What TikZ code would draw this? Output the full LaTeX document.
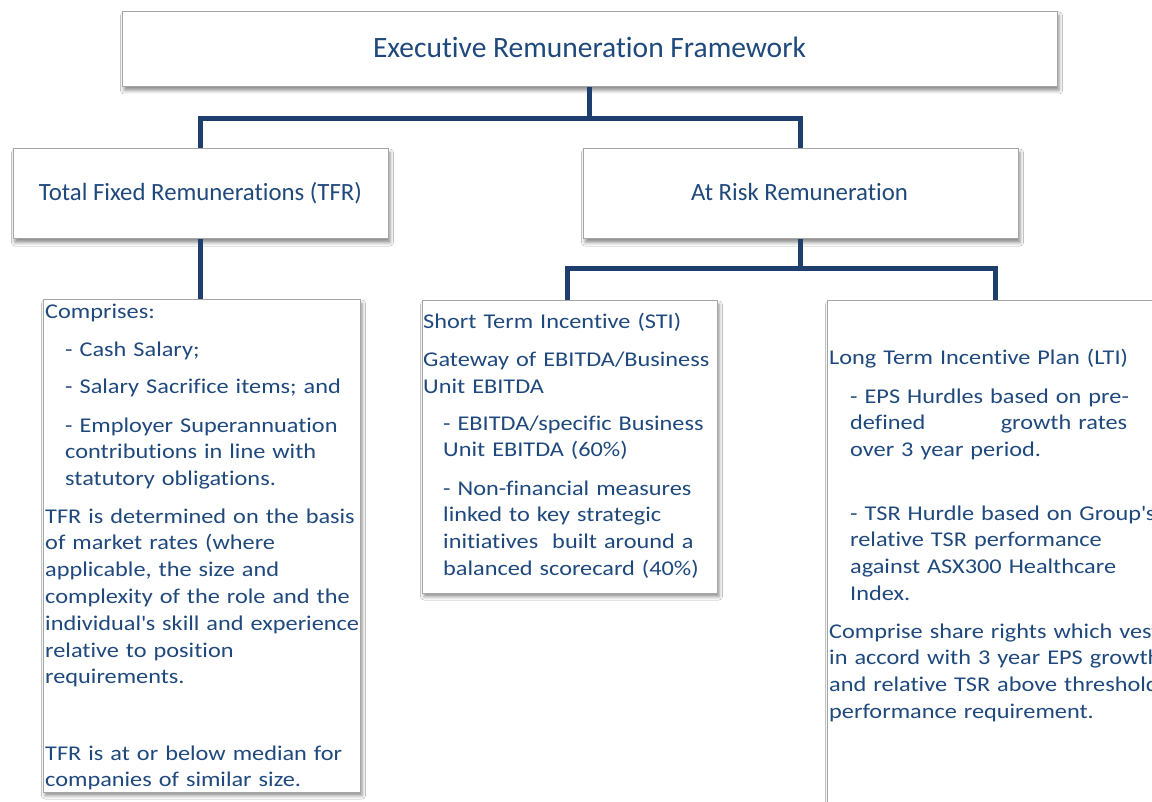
\documentclass[tikz,border=0pt]{standalone}
\usepackage{fontspec}
\setmainfont[Ligatures=NoCommon]{Carlito}
\newfontfamily\bodyfont[FakeStretch=1.157,Ligatures=NoCommon]{Carlito}
\usetikzlibrary{shadows.blur,calc}
\definecolor{txtblue}{HTML}{1F497D}
\definecolor{linkblue}{HTML}{1E3F6E}
\definecolor{boxgray}{HTML}{A6A6A6}
\tikzset{
  frame/.style={draw=boxgray, line width=1pt, fill=white, inner sep=0pt,
    blur shadow={shadow xshift=2pt, shadow yshift=-3.5pt, shadow blur radius=3.5pt, shadow opacity=45}},
  link/.style={draw=linkblue, line width=5pt, line join=miter},
  titletxt/.style={text=txtblue, font=\fontsize{29.5}{35}\selectfont, inner sep=0pt, anchor=base},
  headtxt/.style={text=txtblue, font=\fontsize{24.8}{30}\selectfont, inner sep=0pt, anchor=base},
  bodytxt/.style={text=txtblue, font=\bodyfont\fontsize{21}{26.8}\selectfont, inner sep=0pt,
    anchor=base west, text width=420pt, align=left},
}
\begin{document}
\begin{tikzpicture}[x=1pt,y=-1pt]
\useasboundingbox (0,0) rectangle (1152,802);
\clip (0,0) rectangle (1152,802);
\fill[white] (0,0) rectangle (1152,802);

% boxes
\node[frame, minimum width=935pt, minimum height=75pt] (top) at (589.5,49.5) {};
\node[frame, minimum width=375pt, minimum height=90pt] (tfr) at (200.5,194) {};
\node[frame, minimum width=435pt, minimum height=90pt] (risk) at (800.5,194) {};
\node[frame, minimum width=317pt, minimum height=492pt] (tfrd) at (201.5,546) {};
\node[frame, minimum width=295pt, minimum height=292pt] (sti) at (569.5,447) {};
\node[frame, minimum width=343pt, minimum height=529pt] (lti) at (998.5,565.5) {};

% connectors
\coordinate (bar1) at (589.5,119);
\coordinate (bar2) at (799,269);
\draw[link] (top.south) -- (bar1);
\draw[link] (tfr.north) |- (bar1) -| (risk.north);
\draw[link] (tfr.south) -- (tfr.south |- tfrd.north);
\draw[link] (risk.south) -- (risk.south |- bar2);
\draw[link] ($(sti.north)+(-2.5,0)$) |- (bar2) -| ($(lti.north)+(-3.5,0)$);

% headings
\node[titletxt] (ttl) at (589.5,58) {Executive Remuneration Framework};
\node[headtxt] (tfrt) at (200.5,201) {Total Fixed Remunerations (TFR)};
\node[headtxt] (riskt) at (799.5,201) {At Risk Remuneration};

% TFR detail
\node[bodytxt] (c1) at (45,319) {Comprises:};
\node[bodytxt] (c2) at (65,357) {- Cash Salary;};
\node[bodytxt] (c3) at (65,394) {- Salary Sacrifice items; and};
\node[bodytxt] (c4) at (65,432) {- Employer Superannuation\\contributions in line with\\statutory obligations.};
\node[bodytxt] (c5) at (45,523) {TFR is determined on the basis\\of market rates (where\\applicable, the size and\\complexity of the role and the\\individual\textquotesingle s skill and experience\\relative to position\\requirements.};
\node[bodytxt] (c6) at (45,760) {TFR is at or below median for\\companies of similar size.};

% STI
\node[bodytxt] (s1) at (423,329) {Short Term Incentive (STI)};
\node[bodytxt] (s2) at (423,367) {Gateway of EBITDA/Business\\Unit EBITDA};
\node[bodytxt] (s3) at (443,430) {- EBITDA/specific Business\\Unit EBITDA (60\%)};
\node[bodytxt] (s4) at (443,495) {- Non-financial measures\\linked to key strategic\\initiatives\ \ built around a\\balanced scorecard (40\%)};

% LTI
\node[bodytxt] (l1) at (829,365) {Long Term Incentive Plan (LTI)};
\node[bodytxt] (l2) at (850,403) {- EPS Hurdles based on pre-\\\makebox[277pt][l]{defined\hfill growth rates}\\over 3 year period.};
\node[bodytxt] (l3) at (850,520) {- TSR Hurdle based on Group\textquotesingle s\\relative TSR performance\\against ASX300 Healthcare\\Index.};
\node[bodytxt] (l4) at (829,638) {Comprise share rights which vest\\in accord with 3 year EPS growth\\and relative TSR above threshold\\performance requirement.};
\end{tikzpicture}
\end{document}
